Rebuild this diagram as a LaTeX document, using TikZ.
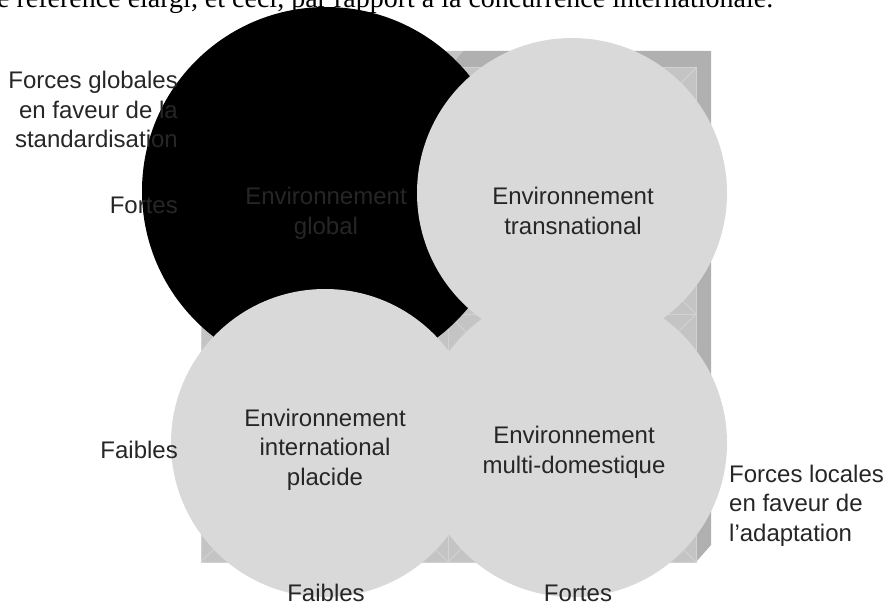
\documentclass[tikz,border=0pt]{standalone}
\usepackage{fontspec}
\setmainfont{Liberation Sans}
\newfontfamily\pagefont{Liberation Serif}
\definecolor{ink}{HTML}{262626}
\definecolor{discgray}{HTML}{D9D9D9}
\definecolor{facegray}{HTML}{C4C4C4}
\definecolor{sidegray}{HTML}{B0B0B0}
\definecolor{seamgray}{HTML}{D2D2D2}

\begin{document}
\begin{tikzpicture}[x=1pt, y=-1pt,
    lbl/.style={font=\fontsize{24}{29.5}\selectfont, text=ink, inner sep=0pt},
    disc/.style={circle, fill=discgray, draw=none, inner sep=0pt}]
  \def\bl{201} \def\bt{68} \def\bm{448} \def\bh{314} \def\br{696} \def\bb{562}
  \def\dx{15} \def\dy{17}
  \useasboundingbox (0,0) rectangle (886,607);
  \clip (0,0) rectangle (886,607);
  % last line of the page above, cut by the frame
  \node[font=\pagefont\fontsize{28}{32}\selectfont, text=black, anchor=base west, inner sep=0pt]
    (pageline) at (-3,8) {e référence élargi, et ceci, par rapport à la concurrence internationale.};
  % box: top and side faces
  \fill[sidegray] (\bm,\bt) -- (\bm+\dx,\bt-\dy) -- (\br+\dx,\bt-\dy) -- (\br+\dx,\bb-\dy) -- (\br,\bb) -- (\br,\bt) -- cycle;
  \fill[facegray] (\bl,\bt) -- (\bl+\dx,\bt-\dy) -- (\bm+\dx,\bt-\dy) -- (\bm,\bt) -- cycle;
  % four bevelled quarters
  \foreach \xa/\xb in {\bl/\bm, \bm/\br} {
    \foreach \ya/\yb in {\bt/\bh, \bh/\bb} {
      \fill[facegray] (\xa,\ya) rectangle (\xb,\yb);
      \draw[seamgray, line width=0.8pt] (\xa,\ya) -- ++(45,45) (\xb,\ya) -- ++(-45,45)
        (\xa,\yb) -- ++(45,-45) (\xb,\yb) -- ++(-45,-45);
      \draw[seamgray, line width=1pt] (\xa,\ya) rectangle (\xb,\yb);
    }
  }
  % the four environments
  \node[disc, fill=black, minimum size=368] (global) at (326,191) {};
  \node[disc, minimum size=310] (transnat) at (572,193) {};
  \node[disc, minimum size=308] (placide) at (325,443) {};
  \node[disc, minimum size=308] (multidom) at (573,443) {};
  \node[lbl, align=center, anchor=base] (globaltxt) at (326,234) {Environnement\\global};
  \node[lbl, align=center, anchor=base] (transtxt) at (573,234) {Environnement\\transnational};
  \node[lbl, align=center, anchor=base] (placidetxt) at (325,485) {Environnement\\international\\placide};
  \node[lbl, align=center, anchor=base] (multitxt) at (574,473) {Environnement\\multi-domestique};
  % axes labels
  \node[lbl, align=right, anchor=base east] (globalforces) at (178,148) {Forces globales\\en faveur de la\\standardisation};
  \node[lbl, anchor=base east] (leftstrong) at (178,213) {Fortes};
  \node[lbl, anchor=base east] (leftweak) at (178,458) {Faibles};
  \node[lbl, anchor=base] (bottomweak) at (326,601) {Faibles};
  \node[lbl, anchor=base] (bottomstrong) at (578,601) {Fortes};
  \node[lbl, align=left, anchor=base west] (localforces) at (729,541) {Forces locales\\en faveur de\\l’adaptation};
\end{tikzpicture}
\end{document}
